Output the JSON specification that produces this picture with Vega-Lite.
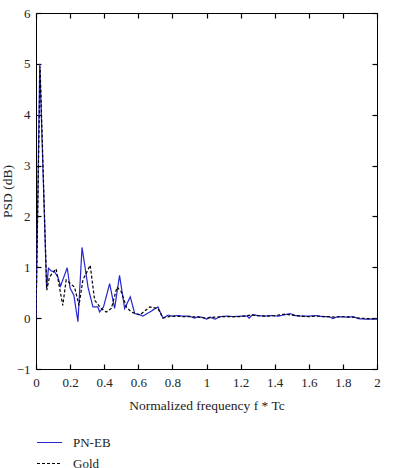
{
  "$schema": "https://vega.github.io/schema/vega-lite/v6.json",
  "autosize": "none",
  "padding": {"left": 36, "top": 13, "right": 27, "bottom": 99},
  "width": 341,
  "height": 356,
  "background": "white",
  "config": {
    "view": {"stroke": "black", "strokeWidth": 1},
    "font": "Liberation Serif",
    "axis": {
      "grid": false,
      "domain": false,
      "zindex": 1,
      "labelFont": "Liberation Serif",
      "labelFontSize": 13,
      "labelColor": "#222",
      "titleFont": "Liberation Serif",
      "titleFontSize": 13.5,
      "titleFontWeight": "normal",
      "titleColor": "#222"
    },
    "legend": {
      "labelFont": "Liberation Serif",
      "labelFontSize": 13,
      "labelColor": "#222"
    }
  },
  "datasets": {
    "psd": [
      {"f": 0, "psd": 0, "series": "PN-EB"},
      {"f": 0.022, "psd": 5.0, "series": "PN-EB"},
      {"f": 0.062, "psd": 0.59, "series": "PN-EB"},
      {"f": 0.073, "psd": 0.98, "series": "PN-EB"},
      {"f": 0.089, "psd": 0.93, "series": "PN-EB"},
      {"f": 0.109, "psd": 0.91, "series": "PN-EB"},
      {"f": 0.128, "psd": 0.81, "series": "PN-EB"},
      {"f": 0.144, "psd": 0.63, "series": "PN-EB"},
      {"f": 0.183, "psd": 0.99, "series": "PN-EB"},
      {"f": 0.2, "psd": 0.59, "series": "PN-EB"},
      {"f": 0.222, "psd": 0.45, "series": "PN-EB"},
      {"f": 0.246, "psd": -0.07, "series": "PN-EB"},
      {"f": 0.27, "psd": 1.39, "series": "PN-EB"},
      {"f": 0.29, "psd": 0.95, "series": "PN-EB"},
      {"f": 0.305, "psd": 0.61, "series": "PN-EB"},
      {"f": 0.334, "psd": 0.22, "series": "PN-EB"},
      {"f": 0.363, "psd": 0.22, "series": "PN-EB"},
      {"f": 0.373, "psd": 0.12, "series": "PN-EB"},
      {"f": 0.396, "psd": 0.22, "series": "PN-EB"},
      {"f": 0.432, "psd": 0.68, "series": "PN-EB"},
      {"f": 0.461, "psd": 0.19, "series": "PN-EB"},
      {"f": 0.49, "psd": 0.84, "series": "PN-EB"},
      {"f": 0.52, "psd": 0.19, "series": "PN-EB"},
      {"f": 0.553, "psd": 0.42, "series": "PN-EB"},
      {"f": 0.579, "psd": 0.09, "series": "PN-EB"},
      {"f": 0.6, "psd": 0.08, "series": "PN-EB"},
      {"f": 0.627, "psd": 0.04, "series": "PN-EB"},
      {"f": 0.667, "psd": 0.12, "series": "PN-EB"},
      {"f": 0.715, "psd": 0.22, "series": "PN-EB"},
      {"f": 0.745, "psd": 0.0, "series": "PN-EB"},
      {"f": 0.775, "psd": 0.06, "series": "PN-EB"},
      {"f": 0.8, "psd": 0.04, "series": "PN-EB"},
      {"f": 0.83, "psd": 0.05, "series": "PN-EB"},
      {"f": 0.86, "psd": 0.04, "series": "PN-EB"},
      {"f": 0.9, "psd": 0.04, "series": "PN-EB"},
      {"f": 0.93, "psd": 0.0, "series": "PN-EB"},
      {"f": 0.95, "psd": 0.03, "series": "PN-EB"},
      {"f": 0.98, "psd": 0.01, "series": "PN-EB"},
      {"f": 1.0, "psd": -0.02, "series": "PN-EB"},
      {"f": 1.02, "psd": 0.02, "series": "PN-EB"},
      {"f": 1.05, "psd": -0.02, "series": "PN-EB"},
      {"f": 1.08, "psd": 0.03, "series": "PN-EB"},
      {"f": 1.12, "psd": 0.04, "series": "PN-EB"},
      {"f": 1.16, "psd": 0.03, "series": "PN-EB"},
      {"f": 1.2, "psd": 0.04, "series": "PN-EB"},
      {"f": 1.24, "psd": 0.04, "series": "PN-EB"},
      {"f": 1.25, "psd": 0.0, "series": "PN-EB"},
      {"f": 1.27, "psd": 0.07, "series": "PN-EB"},
      {"f": 1.3, "psd": 0.05, "series": "PN-EB"},
      {"f": 1.34, "psd": 0.04, "series": "PN-EB"},
      {"f": 1.38, "psd": 0.05, "series": "PN-EB"},
      {"f": 1.42, "psd": 0.04, "series": "PN-EB"},
      {"f": 1.45, "psd": 0.06, "series": "PN-EB"},
      {"f": 1.49, "psd": 0.09, "series": "PN-EB"},
      {"f": 1.52, "psd": 0.05, "series": "PN-EB"},
      {"f": 1.56, "psd": 0.04, "series": "PN-EB"},
      {"f": 1.6, "psd": 0.04, "series": "PN-EB"},
      {"f": 1.64, "psd": 0.05, "series": "PN-EB"},
      {"f": 1.68, "psd": 0.03, "series": "PN-EB"},
      {"f": 1.72, "psd": 0.03, "series": "PN-EB"},
      {"f": 1.74, "psd": -0.01, "series": "PN-EB"},
      {"f": 1.77, "psd": 0.03, "series": "PN-EB"},
      {"f": 1.82, "psd": 0.02, "series": "PN-EB"},
      {"f": 1.86, "psd": 0.03, "series": "PN-EB"},
      {"f": 1.89, "psd": -0.01, "series": "PN-EB"},
      {"f": 1.93, "psd": -0.02, "series": "PN-EB"},
      {"f": 1.97, "psd": -0.02, "series": "PN-EB"},
      {"f": 2.0, "psd": -0.02, "series": "PN-EB"},

      {"f": 0, "psd": 0, "series": "Gold"},
      {"f": 0.024, "psd": 4.95, "series": "Gold"},
      {"f": 0.063, "psd": 0.55, "series": "Gold"},
      {"f": 0.079, "psd": 0.81, "series": "Gold"},
      {"f": 0.118, "psd": 0.97, "series": "Gold"},
      {"f": 0.157, "psd": 0.25, "series": "Gold"},
      {"f": 0.177, "psd": 0.75, "series": "Gold"},
      {"f": 0.226, "psd": 0.61, "series": "Gold"},
      {"f": 0.252, "psd": 0.25, "series": "Gold"},
      {"f": 0.275, "psd": 0.75, "series": "Gold"},
      {"f": 0.318, "psd": 1.04, "series": "Gold"},
      {"f": 0.344, "psd": 0.35, "series": "Gold"},
      {"f": 0.383, "psd": 0.19, "series": "Gold"},
      {"f": 0.412, "psd": 0.12, "series": "Gold"},
      {"f": 0.442, "psd": 0.19, "series": "Gold"},
      {"f": 0.475, "psd": 0.61, "series": "Gold"},
      {"f": 0.5, "psd": 0.52, "series": "Gold"},
      {"f": 0.53, "psd": 0.22, "series": "Gold"},
      {"f": 0.559, "psd": 0.12, "series": "Gold"},
      {"f": 0.608, "psd": 0.06, "series": "Gold"},
      {"f": 0.667, "psd": 0.22, "series": "Gold"},
      {"f": 0.715, "psd": 0.19, "series": "Gold"},
      {"f": 0.745, "psd": 0.0, "series": "Gold"},
      {"f": 0.78, "psd": 0.03, "series": "Gold"},
      {"f": 0.82, "psd": 0.04, "series": "Gold"},
      {"f": 0.86, "psd": 0.03, "series": "Gold"},
      {"f": 0.9, "psd": 0.03, "series": "Gold"},
      {"f": 0.95, "psd": 0.02, "series": "Gold"},
      {"f": 1.0, "psd": 0.0, "series": "Gold"},
      {"f": 1.05, "psd": 0.02, "series": "Gold"},
      {"f": 1.1, "psd": 0.03, "series": "Gold"},
      {"f": 1.15, "psd": 0.03, "series": "Gold"},
      {"f": 1.2, "psd": 0.03, "series": "Gold"},
      {"f": 1.26, "psd": 0.06, "series": "Gold"},
      {"f": 1.3, "psd": 0.05, "series": "Gold"},
      {"f": 1.35, "psd": 0.04, "series": "Gold"},
      {"f": 1.4, "psd": 0.05, "series": "Gold"},
      {"f": 1.46, "psd": 0.08, "series": "Gold"},
      {"f": 1.5, "psd": 0.06, "series": "Gold"},
      {"f": 1.55, "psd": 0.04, "series": "Gold"},
      {"f": 1.6, "psd": 0.03, "series": "Gold"},
      {"f": 1.65, "psd": 0.04, "series": "Gold"},
      {"f": 1.7, "psd": 0.03, "series": "Gold"},
      {"f": 1.75, "psd": 0.02, "series": "Gold"},
      {"f": 1.8, "psd": 0.03, "series": "Gold"},
      {"f": 1.85, "psd": 0.02, "series": "Gold"},
      {"f": 1.9, "psd": 0.0, "series": "Gold"},
      {"f": 1.95, "psd": -0.01, "series": "Gold"},
      {"f": 2.0, "psd": -0.01, "series": "Gold"}
    ]
  },
  "data": {"name": "psd"},
  "resolve": {"axis": {"x": "independent", "y": "independent"}},
  "layer": [
    {
      "mark": {"type": "line", "strokeWidth": 1.2, "clip": true},
      "encoding": {
        "x": {
          "field": "f",
          "type": "quantitative",
          "scale": {"domain": [0, 2], "nice": false, "zero": false},
          "axis": {
            "orient": "bottom",
            "values": [0, 0.2, 0.4, 0.6, 0.8, 1, 1.2, 1.4, 1.6, 1.8, 2],
            "format": "~g",
            "labelFlush": false,
            "ticks": true,
            "tickSize": 5,
            "tickWidth": 1.2,
            "tickColor": "#000000",
            "offset": -5,
            "labelPadding": 7,
            "title": "Normalized frequency f * Tc",
            "titlePadding": 9
          }
        },
        "y": {
          "field": "psd",
          "type": "quantitative",
          "scale": {"domain": [-1, 6], "nice": false, "zero": false},
          "axis": {
            "orient": "left",
            "values": [-1, 0, 1, 2, 3, 4, 5, 6],
            "ticks": true,
            "tickSize": 5,
            "tickWidth": 1.2,
            "tickColor": "#000000",
            "offset": -5,
            "labelPadding": 6,
            "title": "PSD (dB)",
            "titlePadding": 2
          }
        },
        "color": {
          "field": "series",
          "type": "nominal",
          "scale": {"domain": ["PN-EB", "Gold"], "range": ["#2626d0", "#000000"]},
          "legend": {
            "title": null,
            "orient": "none",
            "legendX": 0,
            "legendY": 416,
            "symbolType": "stroke",
            "symbolSize": 625,
            "symbolStrokeWidth": 1.2,
            "rowPadding": -6,
            "labelOffset": 10
          }
        },
        "strokeDash": {
          "field": "series",
          "type": "nominal",
          "scale": {"domain": ["PN-EB", "Gold"], "range": [[1, 0], [3, 2]]},
          "legend": {
            "title": null,
            "orient": "none",
            "legendX": 0,
            "legendY": 416,
            "symbolType": "stroke",
            "symbolSize": 625,
            "symbolStrokeWidth": 1.2,
            "rowPadding": -6,
            "labelOffset": 10
          }
        }
      }
    },
    {
      "mark": {"type": "point", "opacity": 0},
      "encoding": {
        "x": {
          "field": "f",
          "type": "quantitative",
          "scale": {"domain": [0, 2], "nice": false, "zero": false},
          "axis": {
            "orient": "top",
            "values": [0, 0.2, 0.4, 0.6, 0.8, 1, 1.2, 1.4, 1.6, 1.8, 2],
            "ticks": true,
            "tickSize": 5,
            "tickWidth": 1.2,
            "tickColor": "#000000",
            "offset": -5,
            "labels": false,
            "title": null
          }
        },
        "y": {
          "field": "psd",
          "type": "quantitative",
          "scale": {"domain": [-1, 6], "nice": false, "zero": false},
          "axis": {
            "orient": "right",
            "values": [-1, 0, 1, 2, 3, 4, 5, 6],
            "ticks": true,
            "tickSize": 5,
            "tickWidth": 1.2,
            "tickColor": "#000000",
            "offset": -5,
            "labels": false,
            "title": null
          }
        }
      }
    }
  ]
}
